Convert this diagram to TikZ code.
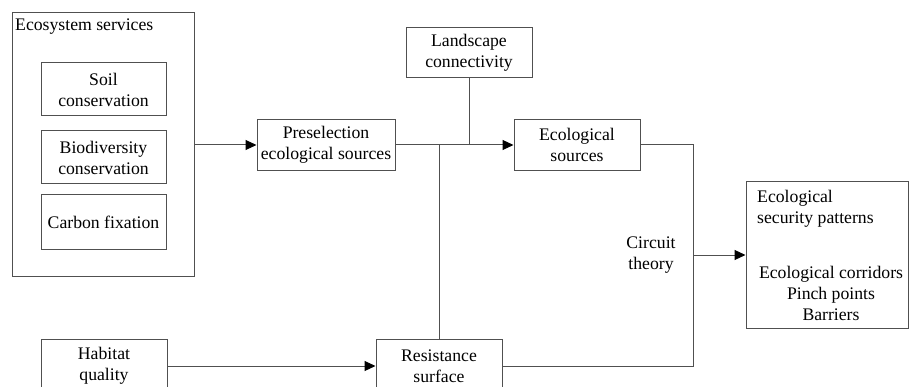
\documentclass[tikz,border=0pt]{standalone}
\usepackage{fontspec}
\setmainfont{Liberation Serif}
\usetikzlibrary{arrows.meta}
\definecolor{linegray}{HTML}{505050}
\begin{document}
\begin{tikzpicture}[x=1pt,y=-1pt,
  every node/.style={font=\fontsize{17.7}{21}\selectfont, text=black},
  box/.style={draw=linegray, line width=1pt, inner sep=0pt, align=center},
  plain/.style={inner sep=0pt, align=center},
  conn/.style={draw=linegray, line width=1pt},
  arr/.style={conn, -{Triangle[length=11pt,width=10pt,fill=black,color=black]}}
]
\useasboundingbox (0,0) rectangle (909,387);
\clip (0,0) rectangle (909,387);
% boxes
\node[box, minimum width=182pt, minimum height=263pt] (eco) at (103,144.5) {};
\node[plain, anchor=west] (ecotitle) at (15,27) {Ecosystem services};
\node[box, minimum width=125pt, minimum height=53pt] (soil) at (103.5,89.5) {Soil\\conservation};
\node[box, minimum width=125pt, minimum height=53pt] (bio) at (103.5,157.5) {Biodiversity\\conservation};
\node[box, minimum width=125pt, minimum height=54pt] (carbon) at (103.5,222) {Carbon fixation};
\node[box, minimum width=138pt, minimum height=51pt] (pre) at (326,145) {Preselection\\ecological sources};
\node[box, minimum width=126pt, minimum height=50pt] (land) at (469,53) {Landscape\\connectivity};
\node[box, minimum width=126pt, minimum height=51pt] (src) at (577,145) {Ecological\\sources};
\node[box, minimum width=162pt, minimum height=146pt] (sec) at (827,255) {};
\node[plain, anchor=west, align=left] (secA) at (757,208.5) {Ecological\\security patterns};
\node[plain] (secB) at (831,293) {Ecological corridors\\Pinch points\\Barriers};
\node[box, minimum width=126pt, minimum height=54pt] (hab) at (104,366) {Habitat\\quality};
\node[box, minimum width=126pt, minimum height=54pt] (res) at (439,366) {Resistance\\surface};
\node[plain] (circ) at (651,255) {Circuit\\theory};
% connectors
\coordinate (c1) at (693,145);
\coordinate (c2) at (693,366);
\coordinate (c3) at (693,255);
\draw[arr] (eco.east |- pre.west) -- (pre.west);
\draw[arr] (pre.east) -- (src.west);
\draw[conn] (land.south) -- (land.south |- pre.east);
\draw[conn] (res.north) -- (res.north |- pre.east);
\draw[conn] (src.east) -- (c1) -- (c2) -- (res.east);
\draw[arr] (c3) -- (sec.west);
\draw[arr] (hab.east) -- (res.west);
\end{tikzpicture}
\end{document}
